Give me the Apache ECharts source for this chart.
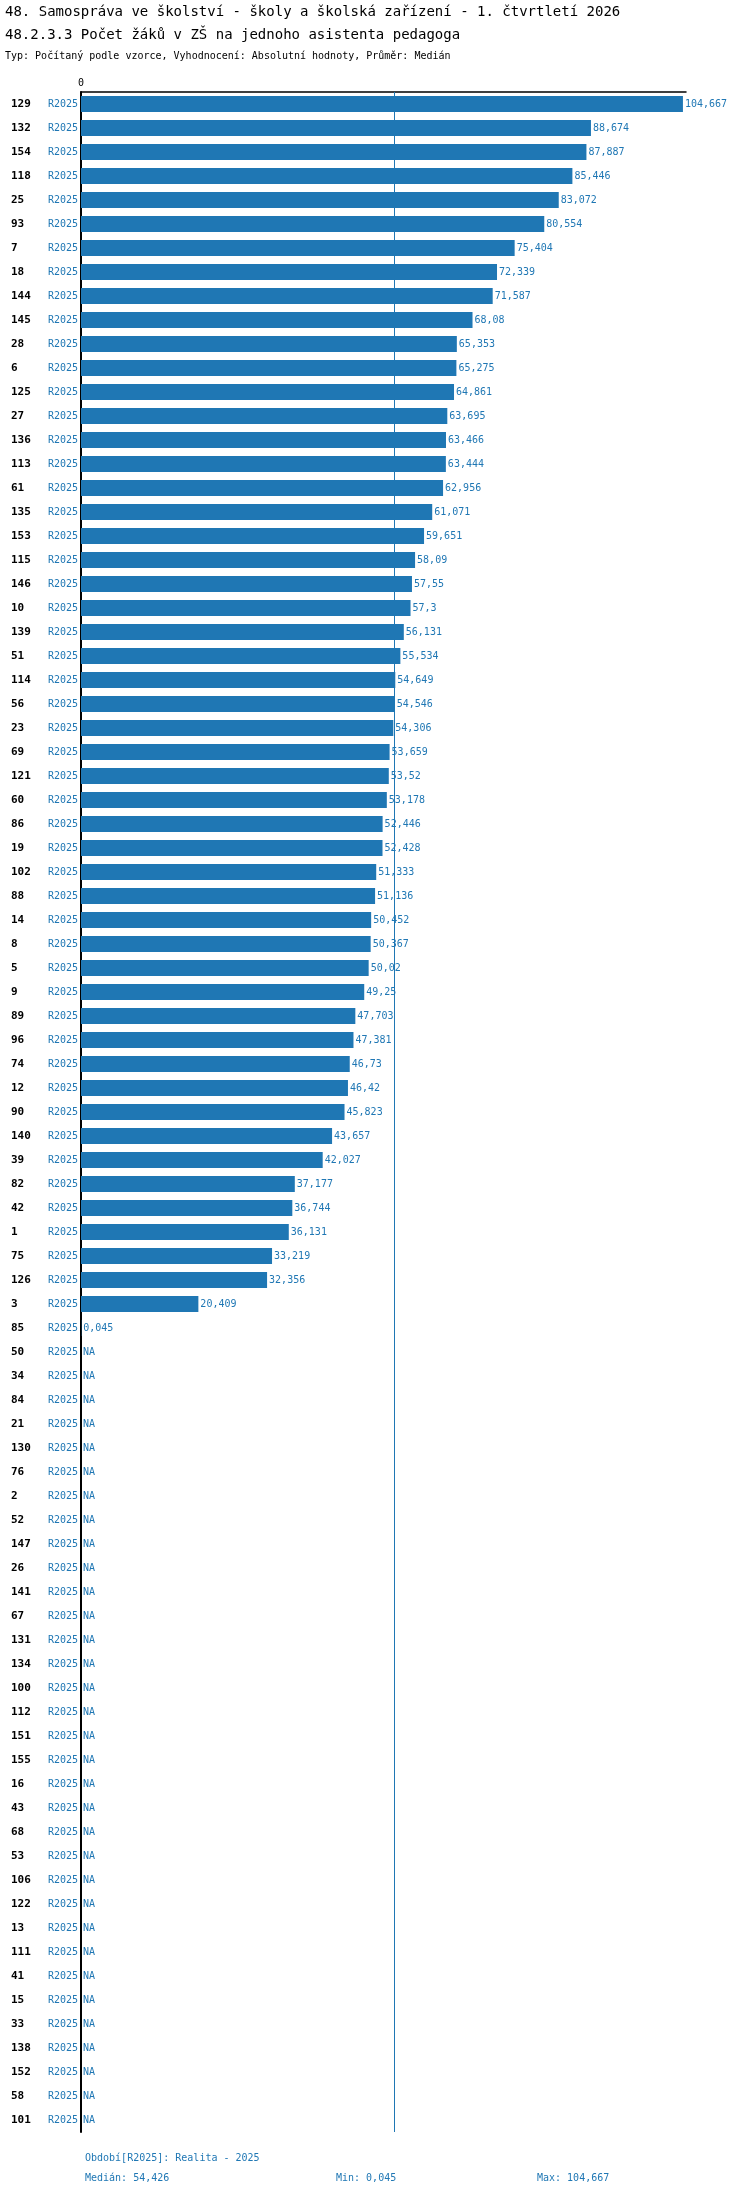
<!DOCTYPE html>
<html>
<head>
<meta charset="utf-8">
<script src="https://cdn.jsdelivr.net/npm/echarts@6/dist/echarts.min.js"></script>
<style>
body { margin: 0; background: #fff; }
#chart { width: 750px; height: 2192px; }
</style>
</head>
<body>
<div id="chart"></div>
<script>
// Data
const ids = ['129','132','154','118','25','93','7','18','144','145','28','6','125','27','136','113','61','135','153','115','146','10','139','51','114','56','23','69','121','60','86','19','102','88','14','8','5','9','89','96','74','12','90','140','39','82','42','1','75','126','3','85',
  '50','34','84','21','130','76','2','52','147','26','141','67','131','134','100','112','151','155','16','43','68','53','106','122','13','111','41','15','33','138','152','58','101'];
const values = [104.667,88.674,87.887,85.446,83.072,80.554,75.404,72.339,71.587,68.08,65.353,65.275,64.861,63.695,63.466,63.444,62.956,61.071,59.651,58.09,57.55,57.3,56.131,55.534,54.649,54.546,54.306,53.659,53.52,53.178,52.446,52.428,51.333,51.136,50.452,50.367,50.02,49.25,47.703,47.381,46.73,46.42,45.823,43.657,42.027,37.177,36.744,36.131,33.219,32.356,20.409,0.045];
const period = 'R2025';
const median = 54.426;
const minVal = 0.045;
const maxVal = 104.667;

const blue = '#1f77b4';
const mono = '"DejaVu Sans Mono", "Liberation Mono", monospace';
const fmt = v => String(v).replace('.', ',');

const chart = echarts.init(document.getElementById('chart'));

const data = ids.map((id, i) => {
    const v = values[i];
    if (v === undefined) {
        return {value: 0, label: {formatter: 'NA'}};
    }
    return {value: v};
});

chart.setOption({
    animation: false,
    textStyle: {fontFamily: mono},
    title: [
        {text: '48. Samospráva ve školství - školy a školská zařízení - 1. čtvrtletí 2026', left: 0, top: 0,
         textStyle: {fontFamily: mono, fontSize: 14, fontWeight: 'normal', color: '#000'}},
        {text: '48.2.3.3 Počet žáků v ZŠ na jednoho asistenta pedagoga', left: 0, top: 23,
         textStyle: {fontFamily: mono, fontSize: 14, fontWeight: 'normal', color: '#000'}},
        {text: 'Typ: Počítaný podle vzorce, Vyhodnocení: Absolutní hodnoty, Průměr: Medián', left: 0, top: 46,
         textStyle: {fontFamily: mono, fontSize: 10, fontWeight: 'normal', color: '#000'}},
        {text: 'Období[R2025]: Realita - 2025', left: 80, top: 2148,
         textStyle: {fontFamily: mono, fontSize: 10, fontWeight: 'normal', color: blue}},
        {text: 'Medián: ' + fmt(median), left: 80, top: 2168,
         textStyle: {fontFamily: mono, fontSize: 10, fontWeight: 'normal', color: blue}},
        {text: 'Min: ' + fmt(minVal), left: 331, top: 2168,
         textStyle: {fontFamily: mono, fontSize: 10, fontWeight: 'normal', color: blue}},
        {text: 'Max: ' + fmt(maxVal), left: 532, top: 2168,
         textStyle: {fontFamily: mono, fontSize: 10, fontWeight: 'normal', color: blue}}
    ],
    grid: {left: 81, top: 92, width: 605, height: ids.length * 24},
    xAxis: {
        type: 'value', position: 'top', min: 0, max: 105.2, interval: 105.2,
        axisLine: {show: true, lineStyle: {color: '#000', width: 1.5}},
        axisTick: {show: false},
        splitLine: {show: false},
        axisLabel: {
            margin: 4, fontSize: 10, color: '#000', fontFamily: mono,
            formatter: v => (v === 0 ? '0' : '')
        }
    },
    yAxis: {
        type: 'category', inverse: true,
        data: ids,
        axisLine: {show: true, lineStyle: {color: '#000', width: 2}},
        axisTick: {show: false},
        axisLabel: {
            margin: 3,
            formatter: id => '{a|' + id + '}{b|' + period + '}',
            rich: {
                a: {width: 37, align: 'left', fontFamily: mono, fontSize: 11, fontWeight: 'bold', color: '#000'},
                b: {fontFamily: mono, fontSize: 10, color: blue}
            }
        }
    },
    series: [{
        type: 'bar',
        data: data,
        barWidth: 16,
        itemStyle: {color: blue},
        label: {
            show: true, position: 'right', distance: 2,
            fontFamily: mono, fontSize: 10, color: blue,
            formatter: p => fmt(p.value)
        },
        markLine: {
            silent: true, symbol: 'none', label: {show: false},
            lineStyle: {color: blue, width: 1, type: 'solid'},
            data: [{xAxis: median}]
        }
    }]
});
</script>
</body>
</html>
